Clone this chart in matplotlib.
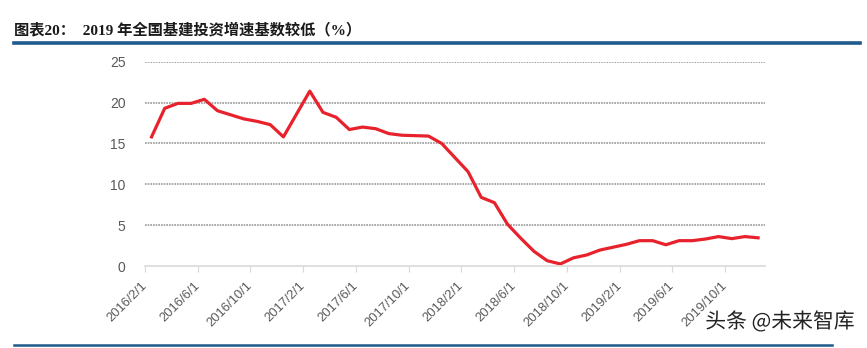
import matplotlib
matplotlib.use("Agg")
import matplotlib.pyplot as plt
import matplotlib.patheffects as pe
from matplotlib.lines import Line2D

plt.rcParams['font.family'] = ['Noto Sans CJK SC', 'DejaVu Sans']

# monthly YTD growth of infrastructure investment (%), Jan is merged into Feb
months = ['2016/2', '2016/3', '2016/4', '2016/5', '2016/6', '2016/7', '2016/8', '2016/9',
          '2016/10', '2016/11', '2016/12',
          '2017/2', '2017/3', '2017/4', '2017/5', '2017/6', '2017/7', '2017/8', '2017/9',
          '2017/10', '2017/11', '2017/12',
          '2018/2', '2018/3', '2018/4', '2018/5', '2018/6', '2018/7', '2018/8', '2018/9',
          '2018/10', '2018/11', '2018/12',
          '2019/2', '2019/3', '2019/4', '2019/5', '2019/6', '2019/7', '2019/8', '2019/9',
          '2019/10', '2019/11', '2019/12']
growth = [15.8, 19.3, 19.9, 19.9, 20.4, 19.0, 18.5, 18.0, 17.7, 17.3, 15.8,
          21.4, 18.8, 18.2, 16.7, 17.0, 16.8, 16.2, 16.0, 15.95, 15.9, 15.0,
          11.55, 8.4, 7.75, 5.1, 3.4, 1.8, 0.65, 0.25, 1.0, 1.35, 1.95,
          2.65, 3.1, 3.1, 2.6, 3.1, 3.1, 3.3, 3.6, 3.35, 3.6, 3.45]
tick_labels = ['2016/2/1', '2016/6/1', '2016/10/1', '2017/2/1', '2017/6/1', '2017/10/1',
               '2018/2/1', '2018/6/1', '2018/10/1', '2019/2/1', '2019/6/1', '2019/10/1']


def month_pos(s):
    y, m = s.split('/')[:2]
    return (int(y) - 2016) * 12 + int(m) - 2


xs = [month_pos(m) for m in months]
tick_pos = [month_pos(t) - 0.5 for t in tick_labels]

fig = plt.figure(figsize=(8.67, 3.48), dpi=100)
ax = fig.add_axes([0.1672, 0.2356, 0.7148, 0.5871])

ax.plot(xs, growth, color='#e8222c', lw=2.3, solid_joinstyle='round')

ax.set_xlim(-0.5, 46.5)
ax.set_ylim(0, 25)
ax.set_yticks([0, 5, 10, 15, 20, 25])
ax.set_xticks(tick_pos)
ax.set_xticklabels(tick_labels, rotation=45, ha='right', va='center',
                   rotation_mode='anchor', fontsize=9.4, color='#595959',
                   family=['Liberation Sans', 'DejaVu Sans'])
for lab in ax.get_yticklabels():
    lab.set_fontsize(10)
    lab.set_color('#595959')
    lab.set_family(['Liberation Sans', 'DejaVu Sans'])

for y in [5, 10, 15, 20, 25]:
    ax.axhline(y, color='#9a9a9a', lw=1.2, ls=(0, (1, 0.6)), zorder=0)

for s in ['top', 'right', 'left']:
    ax.spines[s].set_visible(False)
ax.spines['bottom'].set_color('#d9d9d9')
ax.spines['bottom'].set_linewidth(1.2)
ax.tick_params(axis='x', length=4, color='#d9d9d9', pad=9)
ax.tick_params(axis='y', length=0, pad=14)

# header and footer
fig.text(0.016, 0.915, '图表20：  2019 年全国基建投资增速基数较低（%）',
         fontsize=11, fontweight='bold', color='#1a1a1a', va='center',
         family=['Liberation Serif', 'Noto Sans CJK SC'])
fig.add_artist(Line2D([0.016, 0.992], [0.876, 0.876], color='#1f5a8c', lw=2.6))
fig.add_artist(Line2D([0.016, 0.96], [0.008, 0.008], color='#1f5a8c', lw=1.8))

fig.text(0.986, 0.075, '头条 @未来智库', fontsize=15, color='#222222', ha='right',
         va='center', path_effects=[pe.withStroke(linewidth=3, foreground='white')])

fig.savefig('out.png', dpi=100, facecolor='white')
